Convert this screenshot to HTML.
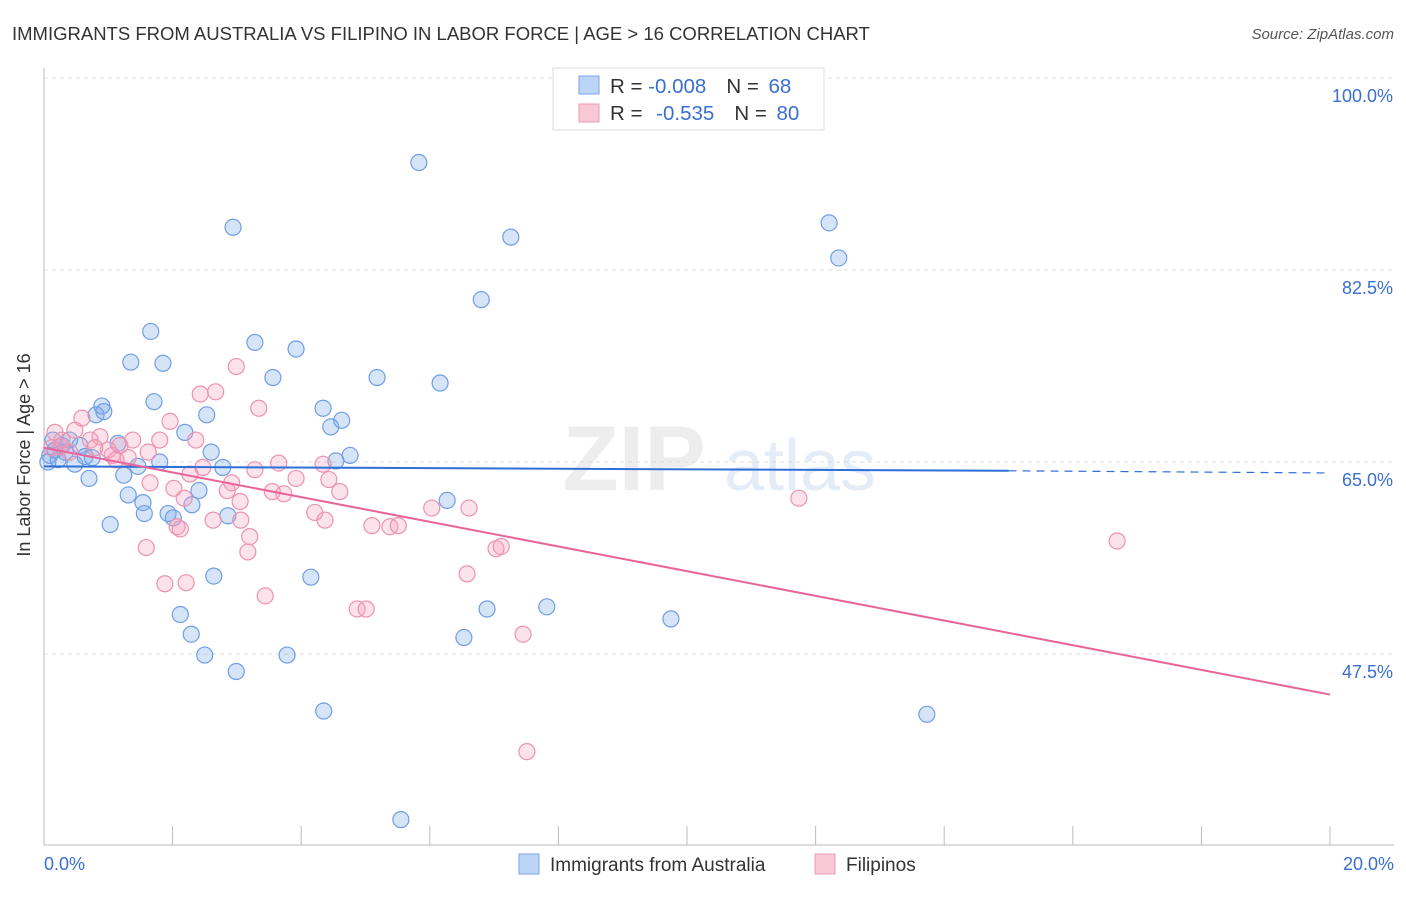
<!DOCTYPE html>
<html><head><meta charset="utf-8">
<style>
body{margin:0;background:#fff;font-family:"Liberation Sans",sans-serif;}
svg text{font-family:"Liberation Sans",sans-serif;}
</style></head>
<body>
<svg id="chart" width="1406" height="892" xmlns="http://www.w3.org/2000/svg">
<text x="12" y="40" font-size="18.5" fill="#333">IMMIGRANTS FROM AUSTRALIA VS FILIPINO IN LABOR FORCE | AGE &gt; 16 CORRELATION CHART</text>
<text x="1394" y="39" font-size="15" fill="#555" font-style="italic" text-anchor="end">Source: ZipAtlas.com</text>
<text x="634" y="490" font-size="92" fill="#e2e2e2" font-family="Liberation Serif" text-anchor="middle" font-weight="bold" opacity="0.6">ZIP</text>
<text x="800" y="490" font-size="72" fill="#d2e0f2" text-anchor="middle" opacity="0.6">atlas</text>
<g id="grid"></g>
<g id="axes"></g>
<g id="pts"></g>
<g id="lines"></g>
<text x="30" y="455" font-size="18" fill="#333" text-anchor="middle" transform="rotate(-90 30 455)">In Labor Force | Age &gt; 16</text>
<g>
<rect x="553" y="68" width="271" height="62" fill="#fff" stroke="#ddd"/>
<rect x="579" y="76" width="20" height="18" fill="#bcd4f6" stroke="#7aa6e8"/>
<rect x="579" y="104" width="20" height="18" fill="#f9c8d6" stroke="#ee99b3"/>
<text x="610" y="93" font-size="20.5" fill="#333">R = <tspan fill="#3a6fd0">-0.008</tspan><tspan dx="20">N = </tspan><tspan dx="4" fill="#3a6fd0">68</tspan></text>
<text x="610" y="120" font-size="20.5" fill="#333">R = <tspan dx="8" fill="#3a6fd0">-0.535</tspan><tspan dx="20">N = </tspan><tspan dx="4" fill="#3a6fd0">80</tspan></text>
</g>
<g>
<rect x="519" y="854" width="20" height="20" fill="#bcd4f6" stroke="#7aa6e8"/>
<text x="550" y="871" font-size="19" fill="#333">Immigrants from Australia</text>
<rect x="815" y="854" width="20" height="20" fill="#f9c8d6" stroke="#ee99b3"/>
<text x="846" y="871" font-size="19" fill="#333">Filipinos</text>
</g>
</svg>
<script>
const yTicks=[100,82.5,65,47.5];
const yTickLabels=["100.0%","82.5%","65.0%","47.5%"];
const xTicks=[0,2,4,6,8,10,12,14,16,18,20];
const blueX=[5.83,2.94,7.26,12.21,12.36,6.80,1.66,3.28,3.92,1.35,1.85,3.56,5.18,6.16,1.71,0.90,0.93,0.81,2.53,4.34,4.63,4.46,2.19,1.15,2.60,4.76,4.54,1.80,1.46,2.78,0.48,0.70,1.24,1.31,2.41,6.27,1.54,2.30,1.56,1.93,2.86,1.03,2.01,2.64,4.15,2.12,6.89,7.82,9.75,2.29,6.53,2.50,3.78,2.99,4.35,13.73,5.55,0.09,0.17,0.28,0.40,0.06,0.22,0.56,0.33,0.64,0.75,0.14];
const blueY=[92.3,86.4,85.5,86.8,83.6,79.8,76.9,75.9,75.3,74.1,74.0,72.7,72.7,72.2,70.5,70.1,69.6,69.3,69.3,69.9,68.8,68.2,67.7,66.7,65.9,65.6,65.1,65.0,64.6,64.5,64.8,63.5,63.8,62.0,62.4,61.5,61.3,61.1,60.3,60.3,60.1,59.3,59.9,54.6,54.5,51.1,51.6,51.8,50.7,49.3,49.0,47.4,47.4,45.9,42.3,42.0,32.4,65.6,66.1,66.5,67.0,65.0,65.2,66.5,65.9,65.5,65.4,67.0];
const pinkX=[2.99,2.43,2.67,3.34,0.59,1.96,2.36,1.80,1.38,0.87,1.18,1.62,1.06,2.47,2.27,3.28,3.65,4.34,2.92,3.92,4.43,1.65,2.02,3.55,3.73,4.60,2.85,2.18,3.05,4.21,6.03,6.61,2.63,3.06,4.37,5.10,5.38,5.51,2.07,2.12,3.20,3.17,1.59,7.03,7.11,6.58,1.88,2.21,3.44,4.87,5.01,7.45,7.51,11.74,16.69,0.17,0.25,0.40,0.72,0.48,1.00,1.31,1.12,0.12,0.79,0.28];
const pinkY=[73.7,71.2,71.4,69.9,69.0,68.7,67.0,67.0,67.0,67.3,66.5,65.9,65.6,64.5,63.9,64.3,64.9,64.8,63.1,63.5,63.4,63.1,62.6,62.3,62.1,62.3,62.4,61.7,61.4,60.4,60.8,60.8,59.7,59.7,59.7,59.2,59.1,59.2,59.1,58.9,58.2,56.8,57.2,57.1,57.3,54.8,53.9,54.0,52.8,51.6,51.6,49.3,38.6,61.7,57.8,67.7,66.4,65.9,67.0,67.9,66.1,65.4,65.2,66.3,66.3,67.0];
const blueLine=[[0,64.6],[15,64.2],[20,64.0]];
const pinkLine=[[0,66.3],[20,43.8]];
const NS="http://www.w3.org/2000/svg";
const X=v=>44+v*64.3, Y=v=>462-(v-65)*10.97;
function mk(t,a,p){const e=document.createElementNS(NS,t);for(const k in a)e.setAttribute(k,a[k]);p.appendChild(e);return e;}
const grid=document.getElementById('grid'),axes=document.getElementById('axes'),pts=document.getElementById('pts'),lines=document.getElementById('lines');
yTicks.forEach((t,i)=>{
 const l=mk('line',{x1:44,x2:1394,y1:Y(t),y2:Y(t),stroke:'#ddd','stroke-dasharray':'4,4'},grid);
 
 
 const tx=mk('text',{x:1393,y:Y(t)+24,'font-size':18,fill:'#3a6fd0','text-anchor':'end'},axes);
 tx.textContent=yTickLabels[i];
 
 
});
mk('line',{x1:44,x2:44,y1:68,y2:845,stroke:'#bbb'},axes);
mk('line',{x1:44,x2:1394,y1:845,y2:845,stroke:'#bbb'},axes);
xTicks.forEach(t=>{
 const l=mk('line',{x1:X(t),x2:X(t),y1:826,y2:845,stroke:'#bbb'},axes);
 
 
});
const x0=mk('text',{x:44,y:870,'font-size':18,fill:'#3a6fd0'},axes);x0.textContent='0.0%';


const x1=mk('text',{x:1394,y:870,'font-size':18,fill:'#3a6fd0','text-anchor':'end'},axes);x1.textContent='20.0%';


blueX.forEach((v,i)=>{
 const c=mk('circle',{cx:X(v),cy:Y(blueY[i]),r:8,fill:'rgba(120,165,232,0.3)',stroke:'#6f9ee6','stroke-width':1.2},pts);
 
 
});
pinkX.forEach((v,i)=>{
 const c=mk('circle',{cx:X(v),cy:Y(pinkY[i]),r:8,fill:'rgba(244,160,188,0.3)',stroke:'#ee92b0','stroke-width':1.2},pts);
 
 
});
const b1=mk('line',{x1:X(blueLine[0][0]),y1:Y(blueLine[0][1]),x2:X(blueLine[1][0]),y2:Y(blueLine[1][1]),stroke:'#2f6fd6','stroke-width':2},lines);


const b2=mk('line',{x1:X(blueLine[1][0]),y1:Y(blueLine[1][1]),x2:X(blueLine[2][0]),y2:Y(blueLine[2][1]),stroke:'#2f6fd6','stroke-width':1.2,'stroke-dasharray':'8,6'},lines);


const p1=mk('line',{x1:X(pinkLine[0][0]),y1:Y(pinkLine[0][1]),x2:X(pinkLine[1][0]),y2:Y(pinkLine[1][1]),stroke:'#e8649a','stroke-width':2},lines);


</script>
</body></html>
